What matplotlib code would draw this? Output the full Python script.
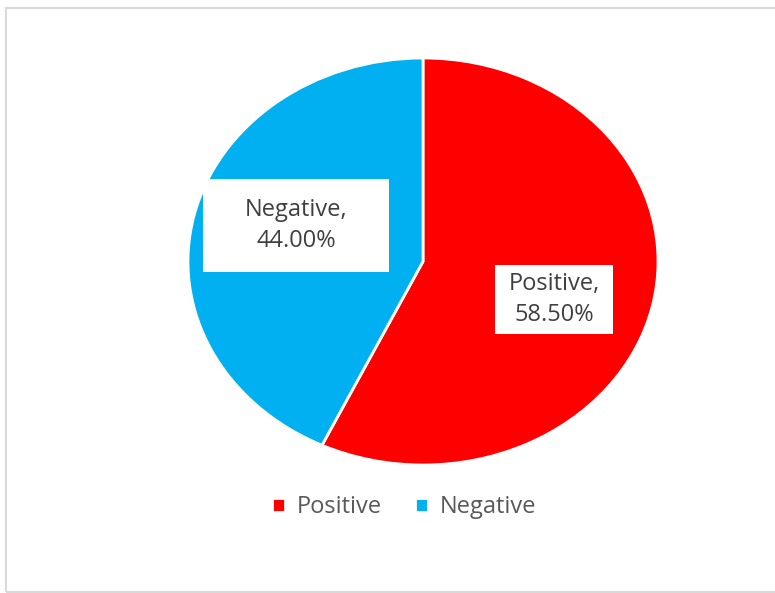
import matplotlib.pyplot as plt
from matplotlib.patches import Rectangle

# Data
labels = ['Positive', 'Negative']
values = [58.5, 44.0]
colors = ['#FF0000', '#00B0F0']

W, H = 775, 593
fig = plt.figure(figsize=(W / 100, H / 100), dpi=100)
fig.patch.set_facecolor('white')

# light gray chart frame (right side runs off the image)
fig.patches.append(Rectangle((6 / W, 1 - 592 / H), 800 / W, (592 - 8) / H,
                             transform=fig.transFigure, fill=False,
                             edgecolor='#d9d9d9', linewidth=1.5))

# pie is stretched horizontally, so use an axes of that shape
left, right, top, bottom = 188, 658, 58, 465
ax = fig.add_axes([left / W, 1 - bottom / H, (right - left) / W, (bottom - top) / H])
wedges, _ = ax.pie(values, colors=colors, startangle=90, counterclock=False,
                   wedgeprops=dict(edgecolor='white', linewidth=2))
ax.set_aspect('auto')
ax.set_xlim(-1, 1)
ax.set_ylim(-1, 1)


def fx(px):
    return px / W


def fy(py):
    return 1 - py / H


# data label boxes
boxes = [(495, 265, 613, 334), (203, 179, 389, 272)]
for (x0, y0, x1, y1), lab, v in zip(boxes, labels, values):
    fig.patches.append(Rectangle((fx(x0), fy(y1)), (x1 - x0) / W, (y1 - y0) / H,
                                 transform=fig.transFigure, facecolor='white',
                                 edgecolor='none', zorder=5))
    fig.text(fx((x0 + x1) / 2), fy((y0 + y1) / 2), f'{lab},\n{v:.2f}%',
             ha='center', va='center', fontsize=17, color='#404040',
             family='Open Sans', linespacing=1.4, zorder=6)

# legend
leg = fig.legend(wedges, labels, loc='center', bbox_to_anchor=(fx(404), fy(507)),
                 ncol=2, frameon=False, handlelength=0.55, handleheight=0.55,
                 handletextpad=0.5, columnspacing=1.4,
                 prop={'family': 'Open Sans', 'size': 17})
for t in leg.get_texts():
    t.set_color('#595959')

fig.savefig('out.png', dpi=100)
